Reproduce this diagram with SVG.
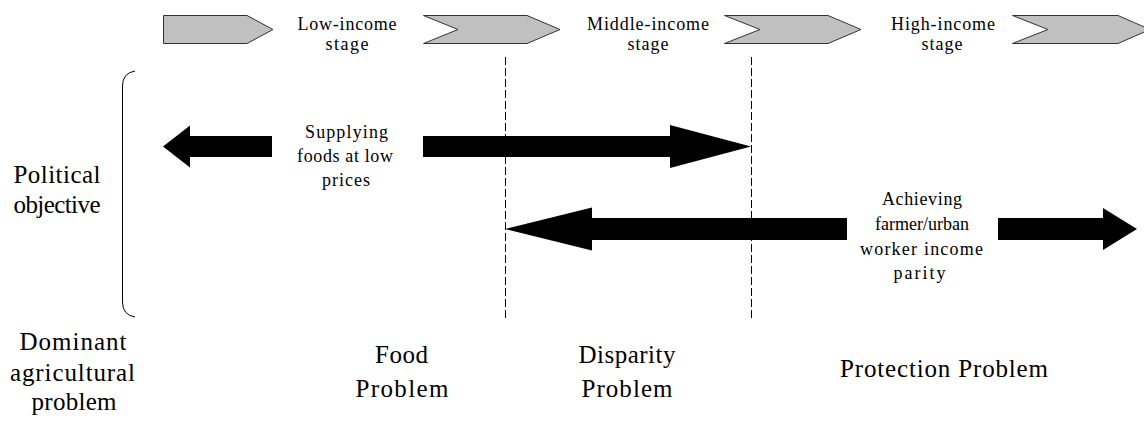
<svg xmlns="http://www.w3.org/2000/svg" width="1144" height="425" viewBox="0 0 1144 425">
<style>
.chev{fill:#c0c0c0;stroke:#333;stroke-width:1}
.arr{fill:#000;stroke:none}
.dash{stroke:#000;stroke-width:1;stroke-dasharray:8 3;fill:none}
.brk{stroke:#000;stroke-width:1;fill:none}
.s{font-family:"Liberation Serif",serif;font-size:18px;fill:#000;text-anchor:middle}
.l{font-family:"Liberation Serif",serif;font-size:25px;fill:#000;text-anchor:middle}
</style>
<rect width="1144" height="425" fill="#fff"/>
<g id="stages">
<g id="stage0"><polygon class="chev" points="163.5,15.5 247,15.5 273,29.5 247,43.5 163.5,43.5"/></g>
<g id="stage1"><polygon class="chev" points="423.5,15.5 527,15.5 560,29.5 527,43.5 423.5,43.5 458,29.5"/></g>
<g id="stage2"><polygon class="chev" points="724.5,15.5 828,15.5 861,29.5 828,43.5 724.5,43.5 760,29.5"/></g>
<g id="stage3"><polygon class="chev" points="1012.5,15.5 1118,15.5 1150,29.5 1118,43.5 1012.5,43.5 1048,29.5"/></g>
<g id="low-income"><text class="s" x="347" y="30" textLength="99">Low-income</text><text class="s" x="347" y="50" textLength="43">stage</text></g>
<g id="middle-income"><text class="s" x="648" y="30" textLength="122">Middle-income</text><text class="s" x="648" y="50" textLength="41">stage</text></g>
<g id="high-income"><text class="s" x="943" y="30" textLength="104">High-income</text><text class="s" x="942" y="50" textLength="41">stage</text></g>
</g>
<g id="connectors">
<line class="dash" x1="505.5" y1="57" x2="505.5" y2="318"/>
<line class="dash" x1="751.5" y1="57" x2="751.5" y2="318"/>
<polygon class="arr" points="163,146.5 190,125.5 190,136 272,136 272,157 190,157 190,167.5"/>
<polygon class="arr" points="423,136 670,136 670,125 751,146.5 670,168 670,157 423,157"/>
<polygon class="arr" points="505,229 592,207.5 592,218 847,218 847,240 592,240 592,250.5"/>
<polygon class="arr" points="998,218 1103,218 1103,208 1137,229 1103,250 1103,240 998,240"/>
<path class="brk" d="M135,71 Q122.5,73 122.5,86 L122.5,302 Q122.5,315 135,317"/>
</g>
<g id="objective-food">
<text class="s" x="346.5" y="138" textLength="83">Supplying</text>
<text class="s" x="345" y="162" textLength="96">foods at low</text>
<text class="s" x="346" y="186" textLength="48">prices</text>
</g>
<g id="objective-parity">
<text class="s" x="922" y="205" textLength="80">Achieving</text>
<text class="s" x="922" y="230">farmer/urban</text>
<text class="s" x="921.5" y="255" textLength="123">worker income</text>
<text class="s" x="919.5" y="279" textLength="52">parity</text>
</g>
<g id="political-objective">
<text class="l" x="57" y="183" textLength="87">Political</text>
<text class="l" x="57" y="213" textLength="87">objective</text>
</g>
<g id="dominant-problem">
<text class="l" x="73" y="350" textLength="107">Dominant</text>
<text class="l" x="72.5" y="381" textLength="125">agricultural</text>
<text class="l" x="74" y="410" textLength="85">problem</text>
</g>
<g id="food-problem">
<text class="l" x="401.5" y="363" textLength="53">Food</text>
<text class="l" x="402" y="397" textLength="93">Problem</text>
</g>
<g id="disparity-problem">
<text class="l" x="627" y="363" textLength="97">Disparity</text>
<text class="l" x="627" y="397" textLength="91">Problem</text>
</g>
<g id="protection-problem">
<text class="l" x="944" y="377" textLength="208">Protection Problem</text>
</g>
</svg>
